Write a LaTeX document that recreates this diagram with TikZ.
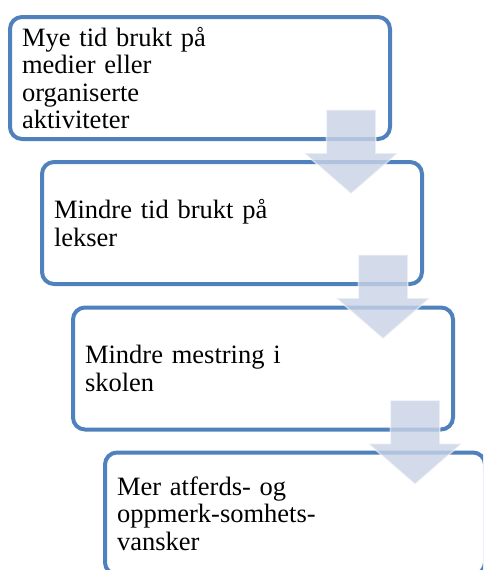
\documentclass[tikz,border=0pt]{standalone}
\usepackage{fontspec}
\setmainfont{Liberation Serif}
\usetikzlibrary{shapes.arrows}
\definecolor{boxline}{HTML}{4F81BD}
\definecolor{arrowfill}{HTML}{C9D3E6}

\begin{document}
\begin{tikzpicture}[x=1pt,y=1pt,
  box/.style={draw=boxline,line width=4pt,rounded corners=12pt,fill=white,minimum width=380pt,minimum height=122pt,text width=356pt,inner xsep=12pt,align=left,outer sep=0pt,font=\fontsize{26.5}{27.5}\selectfont},
  downarrow/.style={single arrow,rotate=-90,anchor=tail,minimum height=84pt,minimum width=92pt,inner xsep=0pt,inner ysep=24pt,single arrow head extend=22pt,single arrow tip angle=98,fill=arrowfill,fill opacity=.8,draw=white,draw opacity=.5,line width=1.5pt}]
\useasboundingbox (0,0) rectangle (483,-570);
\clip (0,0) rectangle (483,-570);
\node[box] (b1) at (200,-78) {Mye tid brukt på\\medier eller\\organiserte\\aktiviteter};
\node[box] (b2) at (232,-223) {Mindre tid brukt på\\lekser};
\node[box] (b3) at (263,-368.5) {Mindre mestring i\\skolen};
\node[box] (b4) at (295,-513.5) {Mer atferds- og\\oppmerk-somhets-\\vansker};
\node[downarrow] (a1) at ([xshift=-39pt,yshift=30pt]b1.south east) {};
\node[downarrow] (a2) at ([xshift=-39pt,yshift=30pt]b2.south east) {};
\node[downarrow] (a3) at ([xshift=-38pt,yshift=30pt]b3.south east) {};
\end{tikzpicture}
\end{document}
